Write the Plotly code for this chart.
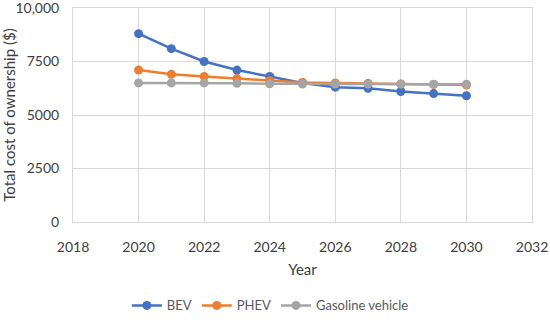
import plotly.graph_objects as go

years = [2020, 2021, 2022, 2023, 2024, 2025, 2026, 2027, 2028, 2029, 2030]
bev = [8800, 8100, 7500, 7100, 6800, 6500, 6300, 6250, 6100, 6000, 5900]
phev = [7100, 6900, 6800, 6700, 6600, 6520, 6500, 6480, 6450, 6430, 6400]
gasoline = [6500, 6500, 6500, 6480, 6460, 6450, 6450, 6450, 6440, 6440, 6440]

y_tickvals = [0, 2500, 5000, 7500, 10000]
y_ticktext = ["0", "2500", "5000", "7500", "10,000"]
x_tickvals = [2018, 2020, 2022, 2024, 2026, 2028, 2030, 2032]

font_family = "Lato, Open Sans, sans-serif"
grid = "#D9D9D9"

fig = go.Figure()
series = [("BEV", bev, "#4472C4"), ("PHEV", phev, "#ED7D31"), ("Gasoline vehicle", gasoline, "#A5A5A5")]
for name, vals, col in series:
    fig.add_trace(go.Scatter(x=years, y=vals, name=name, mode="lines+markers",
                             line=dict(color=col, width=2.5),
                             marker=dict(color=col, size=9)))

fig.update_layout(
    width=550, height=329,
    margin=dict(l=73, r=18, t=8, b=97),
    paper_bgcolor="white", plot_bgcolor="white",
    font=dict(family=font_family, size=14, color="#404040"),
    legend=dict(orientation="h", x=0.43, xanchor="center", y=-0.39, yanchor="middle",
                font=dict(size=13, color="#595959"), itemwidth=30),
    showlegend=True,
)
fig.update_xaxes(range=[2018, 2032], tickvals=x_tickvals, showgrid=True, gridcolor=grid,
                 showline=True, linecolor=grid, mirror=True, zeroline=False,
                 title=dict(text="Year", font=dict(size=15, color="#404040"), standoff=10),
                 ticks="", tickfont=dict(size=14), ticklabelstandoff=12,
                 ticklabeloverflow="allow", automargin=False)
fig.update_yaxes(range=[0, 10000], tickvals=y_tickvals, ticktext=y_ticktext, showgrid=True,
                 gridcolor=grid, showline=True, linecolor=grid, mirror=True, zeroline=False,
                 title=dict(text="Total cost of ownership ($)", font=dict(size=15, color="#404040"), standoff=10),
                 ticks="", tickfont=dict(size=14), ticklabelstandoff=10,
                 ticklabeloverflow="allow", automargin=False)

post = """
document.documentElement.style.overflow='hidden';
document.body.style.margin='0';
document.body.style.overflow='hidden';
var gd = document.getElementById('{plot_id}');
var h = window.innerHeight;
if (h && Math.abs(h - 329) > 1) {
  var s = h / 329;
  Plotly.relayout(gd, {'height': h, 'margin.t': 8 * s, 'margin.b': 97 * s,
                       'xaxis.ticklabelstandoff': 12 * s, 'xaxis.title.standoff': 10 * s});
}
"""

fig.write_html("out.html", config={"displayModeBar": False}, post_script=post)
